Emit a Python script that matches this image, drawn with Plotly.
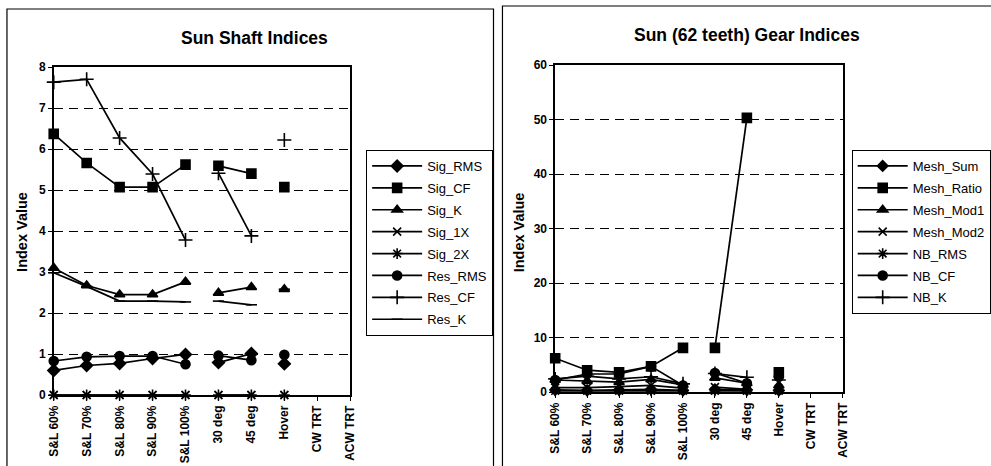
import plotly.graph_objects as go

W, H = 991, 466

categories = ["S&L 60%", "S&L 70%", "S&L 80%", "S&L 90%", "S&L 100%",
              "30 deg", "45 deg", "Hover", "CW TRT", "ACW TRT"]

# Sun shaft indices
sig_rms = [0.60, 0.72, 0.77, 0.89, 0.99, 0.79, 1.01, 0.76, None, None]
sig_cf = [6.37, 5.66, 5.07, 5.07, 5.62, 5.59, 5.40, 5.07, None, None]
sig_k = [3.10, 2.67, 2.45, 2.45, 2.76, 2.49, 2.63, 2.58, None, None]
sig_1x = [0, 0, 0, 0, 0, 0, 0, 0, None, None]
sig_2x = [0, 0, 0, 0, 0, 0, 0, 0, None, None]
res_rms = [0.83, 0.93, 0.95, 0.95, 0.75, 0.96, 0.85, 0.98, None, None]
res_cf = [7.63, 7.70, 6.27, 5.39, 3.78, 5.41, 3.88, 6.22, None, None]
res_k = [2.98, 2.65, 2.29, 2.29, 2.27, 2.29, 2.20, 2.58, None, None]

# Sun (62 teeth) gear indices
mesh_sum = [0.4, 0.3, 0.4, 0.5, 0.3, 0.5, 0.4, 0.3, None, None]
mesh_ratio = [6.2, 4.0, 3.6, 4.7, 8.1, 8.1, 50.3, 3.6, None, None]
mesh_mod1 = [2.2, 2.0, 1.8, 2.3, 1.3, 2.6, 1.6, 1.2, None, None]
mesh_mod2 = [0.8, 0.8, 1.0, 1.2, 0.7, 0.9, 0.5, 0.6, None, None]
nb_rms = [0.2, 0.2, 0.2, 0.2, 0.2, 0.2, 0.2, 0.2, None, None]
nb_cf = [2.2, 3.3, 3.3, 4.7, 1.2, 3.5, 1.6, 2.8, None, None]
nb_k = [2.4, 2.9, 2.4, 2.8, 1.5, 3.4, 2.7, 2.2, None, None]

# test conditions recorded as separate runs: lines join only within a run
runs = [[0, 1, 2, 3, 4], [5, 6], [7]]

FONT = "Liberation Sans, Arial, sans-serif"

shaft_series = [
    ("Sig_RMS", sig_rms, "diamond", 9),
    ("Sig_CF", sig_cf, "square", 9),
    ("Sig_K", sig_k, "triangle-up", 9),
    ("Sig_1X", sig_1x, "x-thin-open", 8),
    ("Sig_2X", sig_2x, "asterisk-open", 9),
    ("Res_RMS", res_rms, "circle", 9),
    ("Res_CF", res_cf, "cross-thin-open", 10),
    ("Res_K", res_k, "line-ew-open", 8),
]
gear_series = [
    ("Mesh_Sum", mesh_sum, "diamond", 8),
    ("Mesh_Ratio", mesh_ratio, "square", 9),
    ("Mesh_Mod1", mesh_mod1, "triangle-up", 9),
    ("Mesh_Mod2", mesh_mod2, "x-thin-open", 8),
    ("NB_RMS", nb_rms, "asterisk-open", 9),
    ("NB_CF", nb_cf, "circle", 9),
    ("NB_K", nb_k, "cross-thin-open", 10),
]

fig = go.Figure()


def add_series(series, xa, ya, legend, prefix):
    for name, vals, sym, size in series:
        for k, run in enumerate(runs):
            xs = [i for i in run if vals[i] is not None]
            ys = [vals[i] for i in xs]
            fig.add_trace(go.Scatter(
                x=xs, y=ys, mode="lines+markers", name=name,
                xaxis=xa, yaxis=ya, legend=legend,
                legendgroup=prefix + name, showlegend=(k == 0),
                cliponaxis=False,
                line=dict(color="black", width=1.7),
                marker=dict(symbol=sym, size=size, color="black",
                            line=dict(color="black", width=1.6)),
            ))


add_series(shaft_series, "x", "y", "legend", "s_")
add_series(gear_series, "x2", "y2", "legend2", "g_")


def px_x(p):
    return p / W


def px_y(p):
    return 1 - p / H


axis_common = dict(
    showline=True, mirror=True, linecolor="black", linewidth=1.5,
    ticks="outside", ticklen=4, tickcolor="black", tickwidth=1,
    zeroline=False,
    tickfont=dict(family=FONT, size=12, color="black", weight="bold"),
)
x_common = dict(axis_common, range=[0, 9], tickmode="array",
                tickvals=list(range(len(categories))), ticktext=categories,
                tickangle=-90, showgrid=False, automargin=False)
y_common = dict(axis_common, showgrid=True, gridcolor="black", gridwidth=1,
                griddash="9px,6px", automargin=False)

legend_common = dict(xanchor="left", yanchor="top",
                     bordercolor="black", borderwidth=1, bgcolor="white",
                     font=dict(family=FONT, size=13), tracegroupgap=2,
                     itemwidth=50)


def label(text, x, y, size, angle=0):
    return dict(text=text, x=px_x(x), y=px_y(y), xref="paper", yref="paper",
                xanchor="center", yanchor="middle", showarrow=False,
                textangle=angle,
                font=dict(family=FONT, size=size, weight="bold"))


fig.update_layout(
    width=W, height=H,
    margin=dict(l=0, r=0, t=0, b=0),
    paper_bgcolor="white", plot_bgcolor="white",
    font=dict(family=FONT, color="black"),
    xaxis=dict(x_common, domain=[px_x(54), px_x(352)], anchor="y"),
    yaxis=dict(y_common, domain=[px_y(395), px_y(67)], anchor="x",
               range=[0, 8], dtick=1),
    xaxis2=dict(x_common, domain=[px_x(558), px_x(847)], anchor="y2"),
    yaxis2=dict(y_common, domain=[px_y(392), px_y(65)], anchor="x2",
                range=[0, 60], dtick=10),
    legend=dict(legend_common, x=px_x(368), y=px_y(150)),
    legend2=dict(legend_common, x=px_x(856), y=px_y(150)),
    shapes=[
        dict(type="rect", xref="paper", yref="paper",
             x0=px_x(7), x1=px_x(496), y0=-0.02, y1=px_y(9),
             line=dict(color="black", width=1.2), layer="below"),
        dict(type="rect", xref="paper", yref="paper",
             x0=px_x(505), x1=1.02, y0=-0.02, y1=px_y(6),
             line=dict(color="black", width=1.2), layer="below"),
    ],
    annotations=[
        label("Sun Shaft Indices", 256, 38, 17.5),
        label("Sun (62 teeth) Gear Indices", 751, 35, 17.5),
        label("Index Value", 22, 232, 14.5, -90),
        label("Index Value", 522, 232, 14.5, -90),
    ],
)

fig.write_html("out.html")
